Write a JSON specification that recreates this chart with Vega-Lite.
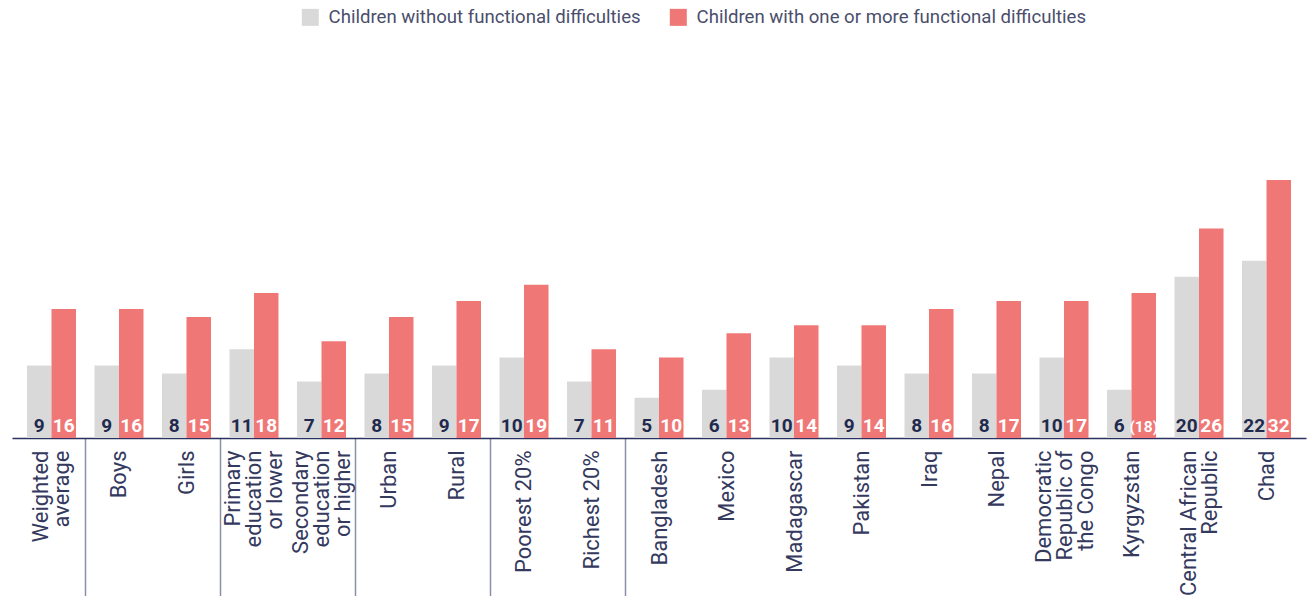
{
  "$schema": "https://vega.github.io/schema/vega-lite/v6.json",
  "autosize": {"type": "none"},
  "width": 1294,
  "height": 258,
  "padding": {"left": 12, "top": 180, "right": 2, "bottom": 158},
  "background": "white",
  "config": {
    "view": {"stroke": null},
    "font": "Roboto",
    "text": {"font": "Roboto"}
  },
  "data": {
    "values": [
      {"cat": "Weighted average", "series": "Children without functional difficulties", "value": 9, "label": "9"},
      {"cat": "Weighted average", "series": "Children with one or more functional difficulties", "value": 16, "label": "16"},
      {"cat": "Boys", "series": "Children without functional difficulties", "value": 9, "label": "9"},
      {"cat": "Boys", "series": "Children with one or more functional difficulties", "value": 16, "label": "16"},
      {"cat": "Girls", "series": "Children without functional difficulties", "value": 8, "label": "8"},
      {"cat": "Girls", "series": "Children with one or more functional difficulties", "value": 15, "label": "15"},
      {"cat": "Primary education or lower", "series": "Children without functional difficulties", "value": 11, "label": "11"},
      {"cat": "Primary education or lower", "series": "Children with one or more functional difficulties", "value": 18, "label": "18"},
      {"cat": "Secondary education or higher", "series": "Children without functional difficulties", "value": 7, "label": "7"},
      {"cat": "Secondary education or higher", "series": "Children with one or more functional difficulties", "value": 12, "label": "12"},
      {"cat": "Urban", "series": "Children without functional difficulties", "value": 8, "label": "8"},
      {"cat": "Urban", "series": "Children with one or more functional difficulties", "value": 15, "label": "15"},
      {"cat": "Rural", "series": "Children without functional difficulties", "value": 9, "label": "9"},
      {"cat": "Rural", "series": "Children with one or more functional difficulties", "value": 17, "label": "17"},
      {"cat": "Poorest 20%", "series": "Children without functional difficulties", "value": 10, "label": "10"},
      {"cat": "Poorest 20%", "series": "Children with one or more functional difficulties", "value": 19, "label": "19"},
      {"cat": "Richest 20%", "series": "Children without functional difficulties", "value": 7, "label": "7"},
      {"cat": "Richest 20%", "series": "Children with one or more functional difficulties", "value": 11, "label": "11"},
      {"cat": "Bangladesh", "series": "Children without functional difficulties", "value": 5, "label": "5"},
      {"cat": "Bangladesh", "series": "Children with one or more functional difficulties", "value": 10, "label": "10"},
      {"cat": "Mexico", "series": "Children without functional difficulties", "value": 6, "label": "6"},
      {"cat": "Mexico", "series": "Children with one or more functional difficulties", "value": 13, "label": "13"},
      {"cat": "Madagascar", "series": "Children without functional difficulties", "value": 10, "label": "10"},
      {"cat": "Madagascar", "series": "Children with one or more functional difficulties", "value": 14, "label": "14"},
      {"cat": "Pakistan", "series": "Children without functional difficulties", "value": 9, "label": "9"},
      {"cat": "Pakistan", "series": "Children with one or more functional difficulties", "value": 14, "label": "14"},
      {"cat": "Iraq", "series": "Children without functional difficulties", "value": 8, "label": "8"},
      {"cat": "Iraq", "series": "Children with one or more functional difficulties", "value": 16, "label": "16"},
      {"cat": "Nepal", "series": "Children without functional difficulties", "value": 8, "label": "8"},
      {"cat": "Nepal", "series": "Children with one or more functional difficulties", "value": 17, "label": "17"},
      {"cat": "Democratic Republic of the Congo", "series": "Children without functional difficulties", "value": 10, "label": "10"},
      {"cat": "Democratic Republic of the Congo", "series": "Children with one or more functional difficulties", "value": 17, "label": "17"},
      {"cat": "Kyrgyzstan", "series": "Children without functional difficulties", "value": 6, "label": "6"},
      {"cat": "Kyrgyzstan", "series": "Children with one or more functional difficulties", "value": 18, "label": "(18)"},
      {"cat": "Central African Republic", "series": "Children without functional difficulties", "value": 20, "label": "20"},
      {"cat": "Central African Republic", "series": "Children with one or more functional difficulties", "value": 26, "label": "26"},
      {"cat": "Chad", "series": "Children without functional difficulties", "value": 22, "label": "22"},
      {"cat": "Chad", "series": "Children with one or more functional difficulties", "value": 32, "label": "32"}
    ]
  },
  "encoding": {
    "x": {
      "field": "cat",
      "type": "nominal",
      "sort": null,
      "title": null,
      "scale": {"paddingInner": 0.274, "paddingOuter": 0.222},
      "axis": {
        "domainColor": "#2b3160",
        "domainWidth": 1.5,
        "ticks": true,
        "tickSize": 158,
        "tickWidth": 1.5,
        "tickOffset": 33.75,
        "labelOffset": {
          "condition": [
            {"test": "indexof(['Weighted average','Central African Republic'], datum.value) >= 0", "value": -44.25},
            {"test": "indexof(['Primary education or lower','Secondary education or higher','Democratic Republic of the Congo'], datum.value) >= 0", "value": -54.75}
          ],
          "value": -33.75
        },
        "tickColor": {
          "condition": {
            "test": "indexof(['Weighted average','Girls','Secondary education or higher','Rural','Richest 20%'], datum.value) >= 0",
            "value": "#8b8fa7"
          },
          "value": "rgba(0,0,0,0)"
        },
        "labelAngle": -90,
        "labelAlign": "right",
        "labelBaseline": "middle",
        "labelPadding": -146,
        "labelFont": "Roboto",
        "labelFontSize": 22,
        "labelColor": "#34395e",
        "labelLineHeight": 21,
        "labelLimit": 0,
        "labelExpr": "datum.label == 'Weighted average' ? ['Weighted','average'] : datum.label == 'Primary education or lower' ? ['Primary','education','or lower'] : datum.label == 'Secondary education or higher' ? ['Secondary','education','or higher'] : datum.label == 'Democratic Republic of the Congo' ? ['Democratic','Republic of','the Congo'] : datum.label == 'Central African Republic' ? ['Central African','Republic'] : datum.label"
      }
    },
    "xOffset": {
      "field": "series",
      "type": "nominal",
      "sort": ["Children without functional difficulties", "Children with one or more functional difficulties"],
      "scale": {"paddingInner": 0, "paddingOuter": 0}
    }
  },
  "layer": [
    {
      "mark": {"type": "bar"},
      "encoding": {
        "y": {"field": "value", "type": "quantitative", "scale": {"domain": [0, 32], "nice": false}, "axis": null},
        "color": {
          "field": "series",
          "type": "nominal",
          "sort": ["Children without functional difficulties", "Children with one or more functional difficulties"],
          "scale": {"domain": ["Children without functional difficulties", "Children with one or more functional difficulties"], "range": ["#d9d9d9", "#ef7775"]},
          "legend": {
            "title": null,
            "orient": "none",
            "legendX": 289,
            "legendY": -172,
            "direction": "horizontal",
            "symbolType": "square",
            "symbolSize": 289,
            "symbolStrokeWidth": 0,
            "labelFont": "Roboto",
            "labelFontSize": 18.6,
            "labelColor": "#4a4e6c",
            "labelOffset": 9,
            "columnPadding": 28,
            "labelLimit": 0
          }
        }
      }
    },
    {
      "mark": {"type": "text", "baseline": "alphabetic", "align": "center", "dy": -6, "fontWeight": "bold", "font": "Roboto"},
      "encoding": {
        "y": {"datum": 0, "type": "quantitative"},
        "text": {"field": "label"},
        "size": {
          "condition": {"test": "datum.label == '(18)'", "value": 15.5},
          "value": 19
        },
        "color": {
          "condition": {"test": "datum.series == 'Children without functional difficulties'", "value": "#1f2a4e"},
          "value": "#ffffff"
        }
      }
    }
  ]
}
